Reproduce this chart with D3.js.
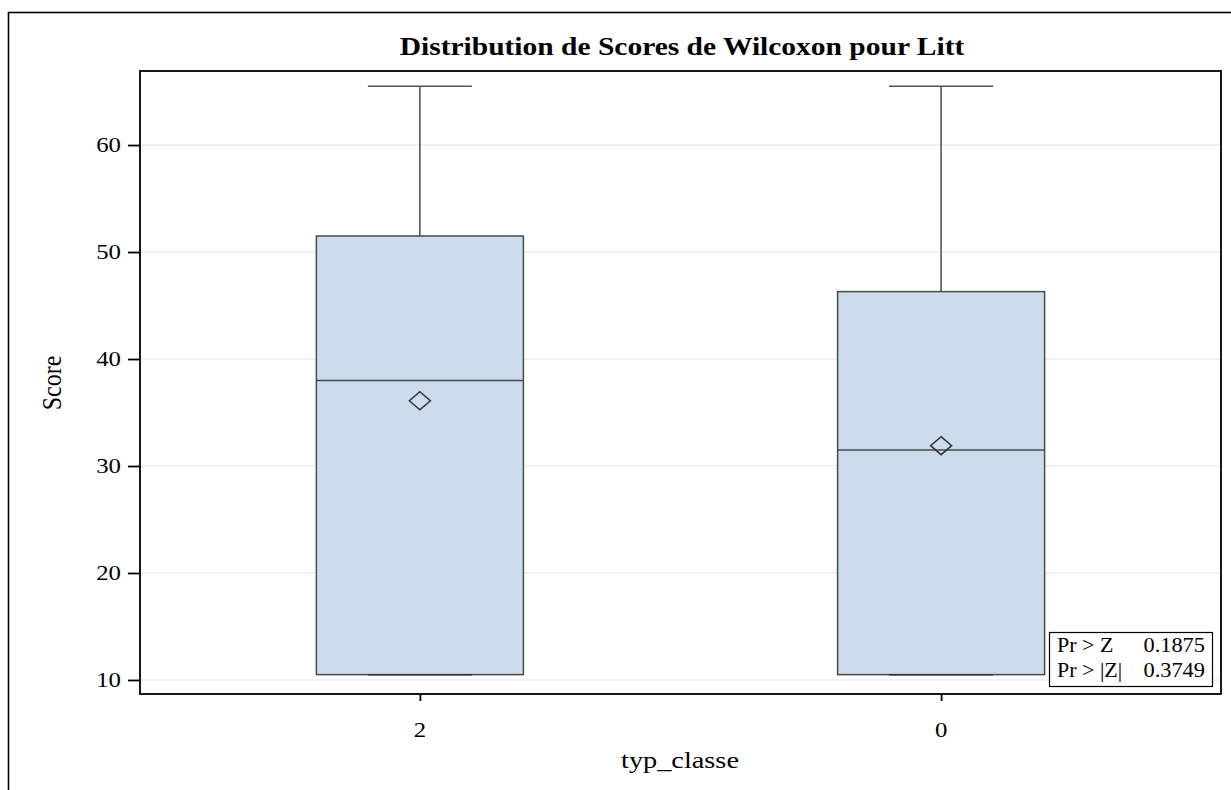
<!DOCTYPE html>
<html><head><meta charset="utf-8">
<script src="https://cdn.jsdelivr.net/npm/d3@7"></script>
<style>body{margin:0;background:#fff}svg{display:block}text{font-family:"Liberation Serif","Times New Roman",serif;fill:#000}</style>
</head><body>
<script>
const categories = ["2", "0"];
const q1 = [10.5, 10.5];
const median = [38.0, 31.5];
const q3 = [51.5, 46.3];
const whiskLow = [10.5, 10.5];
const whiskHigh = [65.5, 65.5];
const means = [36.1, 31.9];
const yTicks = [10, 20, 30, 40, 50, 60];
const statLabels = ["Pr > Z", "Pr > |Z|"];
const statValues = ["0.1875", "0.3749"];

const W = 1231, H = 790, SX = 1.18;
const svg = d3.select("body").append("svg").attr("width", W).attr("height", H);
// outer border
svg.append("rect").attr("x", 8.5).attr("y", 12.5).attr("width", 1240).attr("height", 800)
  .attr("fill", "none").attr("stroke", "#000").attr("stroke-width", 1.6);

const L = 140, R = 1221, T = 71, B = 694;
const x = d3.scalePoint().domain(categories).range([L, R]).padding(0.537);
const y = d3.scaleLinear().domain([8.69, 66.92]).range([B, T]);
const bw = 207, cw = 104;

function stext(sel, px, py, size, str, anchor, weight, sx) {
  return sel.append("text")
    .attr("transform", `translate(${px},${py}) scale(${sx || SX},1)`)
    .attr("font-size", size).attr("text-anchor", anchor || "start")
    .attr("font-weight", weight || "normal").text(str);
}

// grid
svg.append("g").selectAll("line").data(yTicks).join("line")
  .attr("x1", L).attr("x2", R).attr("y1", d => y(d)).attr("y2", d => y(d))
  .attr("stroke", "#e6e6e6").attr("stroke-width", 1.2);

const g = svg.append("g").selectAll("g").data(categories).join("g");
g.append("line").attr("x1", d => x(d)).attr("x2", d => x(d))
  .attr("y1", (d, i) => y(whiskHigh[i])).attr("y2", (d, i) => y(q3[i]))
  .attr("stroke", "#4a4a4a").attr("stroke-width", 1.5);
g.append("line").attr("x1", d => x(d) - cw / 2).attr("x2", d => x(d) + cw / 2)
  .attr("y1", (d, i) => y(whiskHigh[i])).attr("y2", (d, i) => y(whiskHigh[i]))
  .attr("stroke", "#555").attr("stroke-width", 1.5);
g.append("rect").attr("x", d => x(d) - bw / 2).attr("width", bw)
  .attr("y", (d, i) => y(q3[i])).attr("height", (d, i) => y(q1[i]) - y(q3[i]))
  .attr("fill", "#cddcec").attr("stroke", "#4a4a4a").attr("stroke-width", 1.5);
g.append("line").attr("x1", d => x(d) - cw / 2).attr("x2", d => x(d) + cw / 2)
  .attr("y1", (d, i) => y(whiskLow[i])).attr("y2", (d, i) => y(whiskLow[i]))
  .attr("stroke", "#333").attr("stroke-width", 1.5);
g.append("line").attr("x1", d => x(d) - bw / 2).attr("x2", d => x(d) + bw / 2)
  .attr("y1", (d, i) => y(median[i])).attr("y2", (d, i) => y(median[i]))
  .attr("stroke", "#4a4a4a").attr("stroke-width", 1.5);
g.append("path").attr("d", "M0,-9L10.5,0L0,9L-10.5,0Z")
  .attr("transform", (d, i) => `translate(${x(d)},${y(means[i])})`)
  .attr("fill", "none").attr("stroke", "#333").attr("stroke-width", 1.5);

// frame
svg.append("rect").attr("x", L).attr("y", T).attr("width", R - L).attr("height", B - T)
  .attr("fill", "none").attr("stroke", "#000").attr("stroke-width", 1.8);

// axes
const ya = svg.append("g").attr("transform", `translate(${L},0)`)
  .call(d3.axisLeft(y).tickValues(yTicks).tickSize(12).tickFormat(""));
const xa = svg.append("g").attr("transform", `translate(0,${B})`)
  .call(d3.axisBottom(x).tickSize(7).tickFormat(""));
[ya, xa].forEach(a => {
  a.select(".domain").remove();
  a.selectAll(".tick line").attr("stroke", "#000").attr("stroke-width", 1.8);
  a.selectAll(".tick text").remove();
});
yTicks.forEach(t => stext(svg, 121, y(t) + 7, 21, String(t), "end"));
categories.forEach(c => stext(svg, x(c), 737, 21, c, "middle"));

stext(svg, 682, 55, 25, "Distribution de Scores de Wilcoxon pour Litt", "middle", "bold");
stext(svg, 680, 768, 24, "typ_classe", "middle");
svg.append("text").attr("transform", "translate(61,383) rotate(-90) scale(1,1.18)").attr("text-anchor", "middle")
  .attr("font-size", 24).text("Score");

// inset
const ins = svg.append("g");
ins.append("rect").attr("x", 1049.5).attr("y", 632.5).attr("width", 163).attr("height", 54)
  .attr("fill", "#fff").attr("stroke", "#000").attr("stroke-width", 1.2);
statLabels.forEach((s, i) => {
  stext(ins, 1057, 652 + i * 25, 20, s, "start", "normal", 1.1);
  stext(ins, 1205, 652 + i * 25, 20, statValues[i], "end", "normal", 1.12);
});
</script>
</body></html>
